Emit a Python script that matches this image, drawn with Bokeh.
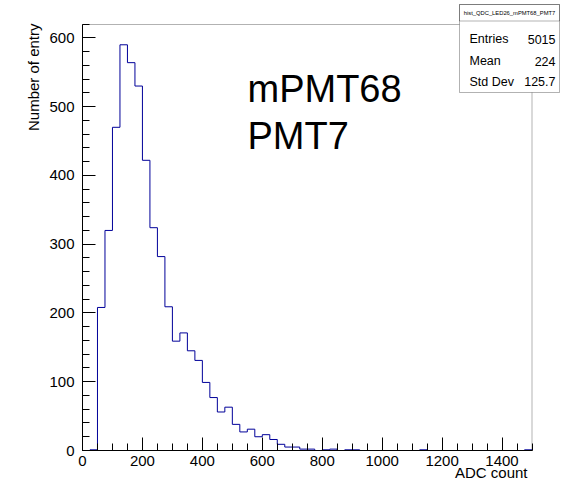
import numpy as np
from bokeh.plotting import figure
from bokeh.models import Label, BoxAnnotation, Range1d, FixedTicker, LinearAxis
from bokeh.embed import file_html
from bokeh.resources import INLINE

# ---- data ----
bin_width = 25
x_min, x_max = 0, 1500
counts = [0, 1, 208, 320, 470, 590, 564, 530, 422, 324,
          282, 209, 159, 171, 145, 131, 99, 77, 56, 63,
          38, 27, 31, 20, 23, 16, 9, 5, 5, 2,
          2, 0, 1, 2, 0, 1, 1, 0, 0, 0,
          0, 0, 0, 0, 0, 1, 0, 0, 0, 0,
          0, 0, 0, 0, 0, 0, 0, 0, 0, 1]
x_ticks = [0, 200, 400, 600, 800, 1000, 1200, 1400]
x_minor = list(range(0, 1501, 50))
y_ticks = [0, 100, 200, 300, 400, 500, 600]
y_minor = list(range(0, 621, 20))
hist_name = "hist_QDC_LED26_mPMT68_PMT7"
stat_names = ["Entries", "Mean", "Std Dev"]
stat_values = ["5015", "224", "125.7"]
x_title = "ADC count"
y_title = "Number of entry"
big_text = ["mPMT68", "PMT7"]

# ---- layout (pixels on the canvas) ----
W, H = 560, 482
FL, FR, FT, FB = 82, 531.5, 24, 450      # visual plot frame
FONT = "Liberation Sans"

y_max = max(counts) * 1.05
sx = (FR - FL) / (x_max - x_min)
sy = (FB - FT) / y_max
xr = Range1d(x_min - FL / sx, x_max + (W - FR) / sx)
yr = Range1d(-(H - FB) / sy, y_max + FT / sy)


def X(px):
    return xr.start + px / sx


def Y(py):
    return yr.end - py / sy


edges = np.arange(x_min, x_max + bin_width, bin_width)
ys = list(counts) + [counts[-1]]

p = figure(width=W, height=H, output_backend="svg", toolbar_location=None,
           x_range=xr, y_range=yr, x_axis_location=None, y_axis_location=None,
           min_border=0, min_border_left=0, min_border_right=0,
           min_border_top=0, min_border_bottom=0)
p.xgrid.visible = False
p.ygrid.visible = False
p.outline_line_color = None
p.background_fill_color = "white"
p.border_fill_color = "white"

# frame
p.add_layout(BoxAnnotation(left=x_min, right=x_max, bottom=0, top=y_max,
                           fill_alpha=0.0, line_color="black", line_width=1))

p.step(x=edges, y=ys, mode="after", line_color="#000099", line_width=1)

xax = LinearAxis(fixed_location=0, bounds=(x_min, x_max))
yax = LinearAxis(fixed_location=x_min, bounds=(0, y_max))
p.add_layout(xax, "below")
p.add_layout(yax, "left")
for ax, ticks, minors in ((xax, x_ticks, x_minor), (yax, y_ticks, y_minor)):
    ax.ticker = FixedTicker(ticks=ticks, minor_ticks=minors)
    ax.axis_line_color = "black"
    ax.major_tick_line_color = "black"
    ax.minor_tick_line_color = "black"
    ax.major_tick_in = 13
    ax.major_tick_out = 0
    ax.minor_tick_in = 7
    ax.minor_tick_out = 0
    ax.major_label_text_font = FONT
    ax.major_label_text_font_size = "15px"
    ax.major_label_text_color = "black"
xax.major_label_standoff = 5
yax.major_label_standoff = 8

# axis titles (ROOT style: aligned to the end of the axis)
p.add_layout(Label(x=X(527), y=Y(472), text=x_title, text_font=FONT,
                   text_font_size="15px", text_align="right",
                   text_baseline="middle", text_color="black"))
p.add_layout(Label(x=X(33), y=Y(23), text=y_title, text_font=FONT,
                   text_font_size="15px", angle=np.pi / 2, text_align="right",
                   text_baseline="middle", text_color="black"))

# big annotation text
for t, cy in zip(big_text, [88.5, 135]):
    p.add_layout(Label(x=X(247), y=Y(cy), text=t, text_font=FONT,
                       text_font_size="38px", text_align="left",
                       text_baseline="middle", text_color="black"))

# stats box
bl, br, bt, bb, bsep = 459, 559, 4, 92, 20.5
p.add_layout(BoxAnnotation(left=X(bl), right=X(br), top=Y(bt), bottom=Y(bb),
                           fill_color="white", fill_alpha=1.0,
                           line_color="black", line_width=1, level="overlay"))
p.add_layout(BoxAnnotation(left=X(bl), right=X(br), top=Y(bt), bottom=Y(bsep),
                           fill_alpha=0.0, line_color="black", line_width=1,
                           level="overlay"))
p.add_layout(Label(x=X((bl + br) / 2), y=Y(12.5), text=hist_name,
                   text_font=FONT, text_font_size="5.8px", text_align="center",
                   text_baseline="middle", text_color="black", level="overlay"))
for name, val, cy in zip(stat_names, stat_values, [38.5, 60.5, 81]):
    p.add_layout(Label(x=X(bl + 10), y=Y(cy), text=name, text_font=FONT,
                       text_font_size="12.5px", text_align="left",
                       text_baseline="middle", text_color="black",
                       level="overlay"))
    p.add_layout(Label(x=X(br - 4), y=Y(cy), text=val, text_font=FONT,
                       text_font_size="12.5px", text_align="right",
                       text_baseline="middle", text_color="black",
                       level="overlay"))

open("out.html", "w").write(file_html(p, INLINE))
